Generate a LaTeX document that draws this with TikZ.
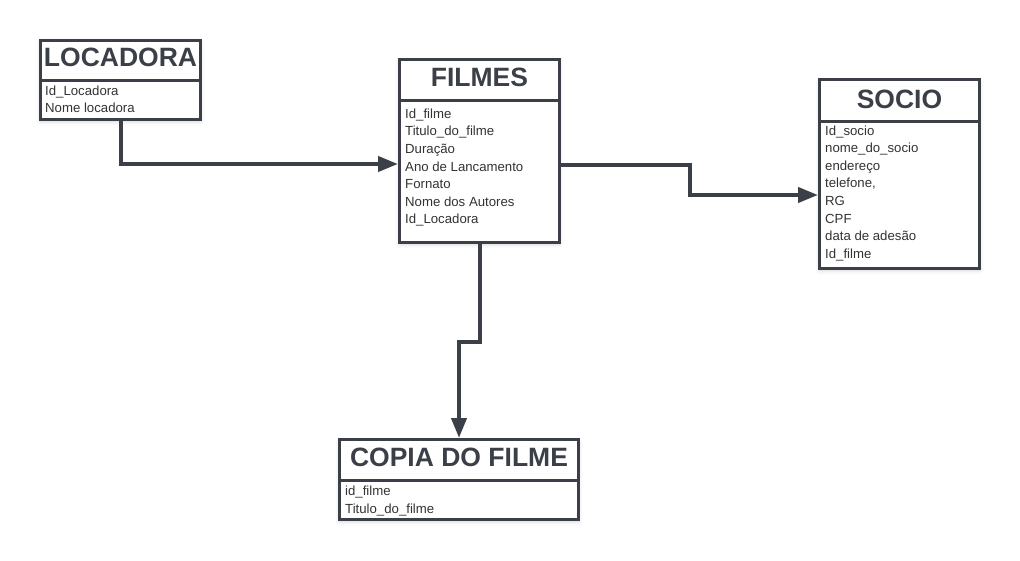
\documentclass[tikz,border=0pt]{standalone}
\usepackage{fontspec}
\setmainfont{Liberation Sans}
\usetikzlibrary{arrows.meta,shadows.blur}
\definecolor{edge}{HTML}{3B4048}
\definecolor{txt}{HTML}{333333}
\tikzset{
  x=1pt,y=1pt,
  ent/.style={draw=edge,line width=3pt,fill=white,rectangle,inner sep=0,anchor=north west,
    blur shadow={shadow xshift=0pt,shadow yshift=-2pt,shadow blur radius=4pt,shadow opacity=18}},
  div/.style={draw=edge,line width=3pt},
  hdr/.style={font=\bfseries\fontsize{26.5}{30}\selectfont,text=edge,anchor=base,inner sep=0},
  row/.style={font=\fontsize{13.2}{15}\selectfont,text=txt,anchor=base west,inner sep=0},
  conn/.style={draw=edge,line width=4pt},
  arr/.style={conn,-{Triangle[length=20pt,width=15pt]}},
}
\begin{document}
\begin{tikzpicture}
\useasboundingbox (0,0) rectangle (1020,-560);

% LOCADORA
\node[ent,minimum width=160,minimum height=79] (loc) at (39,-39) {};
\draw[div] (loc.west |- 0,-80) -- (loc.east |- 0,-80);
\node[hdr] (loch) at (loc.north |- 0,-66) {LOCADORA};
\node[row] (loc1) at (45,-95) {Id\_Locadora};
\node[row] (loc2) at (45,-112.7) {Nome locadora};

% FILMES
\node[ent,minimum width=160,minimum height=183] (fil) at (398,-58) {};
\draw[div] (fil.west |- 0,-100) -- (fil.east |- 0,-100);
\node[hdr] (filh) at (fil.north |- 0,-86) {FILMES};
\foreach \t [count=\i from 0] in {Id\_filme,Titulo\_do\_filme,Duração,Ano de Lancamento,Fornato,Nome dos Autores,Id\_Locadora}
  \node[row] (fil\i) at (405,-118.3-17.6*\i) {\t};

% SOCIO
\node[ent,minimum width=160,minimum height=189] (soc) at (818,-78) {};
\draw[div] (soc.west |- 0,-121) -- (soc.east |- 0,-121);
\node[hdr] (soch) at (soc.north |- 0,-108) {SOCIO};
\foreach \t [count=\i from 0] in {Id\_socio,nome\_do\_socio,endereço,{telefone,},RG,CPF,data de adesão,Id\_filme}
  \node[row] (soc\i) at (825,-135-17.6*\i) {\t};

% COPIA DO FILME
\node[ent,minimum width=239,minimum height=80] (cop) at (338,-438) {};
\draw[div] (cop.west |- 0,-480) -- (cop.east |- 0,-480);
\node[hdr] (coph) at (cop.north |- 0,-466) {COPIA DO FILME};
\node[row] (cop1) at (345,-495) {id\_filme};
\node[row] (cop2) at (345,-513.3) {Titulo\_do\_filme};

% connectors
\draw[arr] (loc.south) |- ([yshift=-13]fil.west);
\coordinate (b1) at ([xshift=129]fil.east |- 0,-165);
\draw[arr] (fil.east |- b1) -- (b1) |- ([yshift=-21]soc.west);
\coordinate (b2) at (fil.south |- 0,-342);
\draw[arr] (fil.south) -- (b2) -| (cop.north);
\end{tikzpicture}
\end{document}
